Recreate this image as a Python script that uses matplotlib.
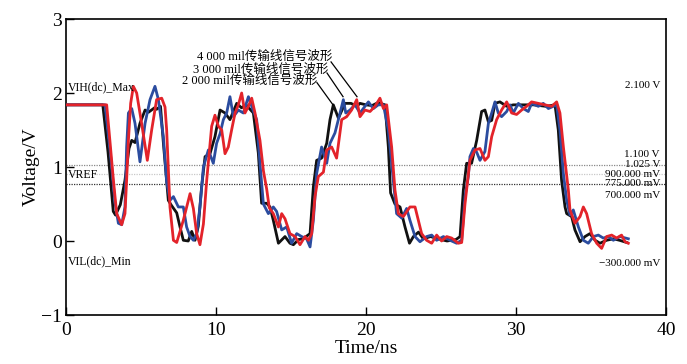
import matplotlib
matplotlib.use("Agg")
import matplotlib.pyplot as plt

# waveform samples (time in ns, voltage in V)
black_t = [0, 2.45, 2.8, 3.15, 3.3, 3.62, 3.93, 4.2, 4.38, 4.6, 4.93, 5.27, 5.5, 5.9, 6.04, 6.3,
           6.5, 6.82, 7.0, 7.38, 7.6, 7.82, 8.15, 8.38, 8.6, 8.82, 9.04, 9.27, 9.6, 9.93, 10.27,
           10.6, 10.93, 11.38, 11.7, 12.0, 12.49, 12.82, 13.04, 13.38, 13.6, 13.82, 14.16, 14.6,
           14.93, 15.16, 15.5, 15.8, 16.27, 16.49, 16.71, 17.04, 17.38, 17.6, 17.82, 18.16, 18.6,
           19.0, 19.38, 19.6, 20.0, 20.4, 20.8, 21.27, 21.49, 21.64, 21.93, 22.27, 22.6, 22.9,
           23.16, 23.5, 23.82, 24.3, 24.8, 25.4, 26.0, 26.27, 26.49, 26.71, 27.04, 27.38, 27.71,
           27.93, 28.16, 28.38, 28.6, 28.93, 29.38, 29.82, 30.27, 31.16, 32.0, 32.6, 32.82, 33.04,
           33.27, 33.38, 33.71, 33.93, 34.27, 34.6, 34.93, 35.27, 35.6, 36.04, 36.5, 36.9, 37.38]
black_v = [1.84, 1.84, 1.2, 0.40, 0.35, 0.49, 0.82, 1.25, 1.36, 1.33, 1.59, 1.77, 1.74, 1.80, 1.78, 1.82,
           1.3, 0.55, 0.49, 0.38, 0.19, 0.01, 0.0, 0.13, 0.01, 0.2, 0.73, 1.14, 1.18, 1.41, 1.77,
           1.73, 1.64, 1.86, 1.80, 1.84, 1.73, 1.19, 0.51, 0.51, 0.46, 0.28, -0.03, 0.06,
           -0.03, -0.05, 0.02, 0.03, 0.1, 0.73, 1.09, 1.12, 1.32, 1.64, 1.84, 1.66, 1.86,
           1.86, 1.82, 1.86, 1.84, 1.83, 1.87, 1.84, 1.27, 0.65, 0.5, 0.46, 0.19, -0.03,
           0.06, 0.12, 0.03, 0.06, 0.03, 0.0, 0.02, 0.06, 0.69, 1.05, 1.05, 1.36, 1.75,
           1.77, 1.61, 1.63, 1.86, 1.88, 1.82, 1.84, 1.84, 1.84, 1.82, 1.84, 1.5, 0.82,
           0.46, 0.37, 0.33, 0.15, -0.01, 0.06, 0.1, 0.01, -0.03, 0.01, 0.03, 0.01, -0.02]

blue_t = [0, 2.6, 2.95, 3.27, 3.49, 3.71, 3.93, 4.04, 4.16, 4.38, 4.6, 4.93, 5.27, 5.6, 5.93, 6.16,
          6.49, 6.71, 6.93, 7.16, 7.49, 7.82, 8.04, 8.27, 8.49, 8.71, 8.93, 9.16, 9.49, 9.82, 10.04,
          10.27, 10.49, 10.71, 10.93, 11.16, 11.49, 11.82, 12.16, 12.38, 12.71, 12.93, 13.16, 13.49,
          13.82, 14.04, 14.38, 14.71, 15.04, 15.38, 15.71, 16.04, 16.27, 16.49, 16.71, 17.04, 17.38,
          17.6, 17.93, 18.27, 18.49, 18.65, 18.93, 19.27, 19.6, 19.93, 20.16, 20.49, 20.82, 21.16,
          21.49, 21.82, 22.04, 22.38, 22.71, 22.93, 23.27, 23.6, 24.04, 24.38, 24.71, 25.16, 25.6,
          26.04, 26.38, 26.6, 26.82, 26.93, 27.16, 27.38, 27.6, 27.93, 28.16, 28.38, 28.6, 28.82,
          29.04, 29.38, 29.6, 29.82, 30.16, 30.49, 30.82, 31.04, 31.49, 31.82, 32.16, 32.71, 32.93,
          33.16, 33.38, 33.6, 33.82, 34.16, 34.49, 34.82, 35.16, 35.49, 35.82, 36.16, 36.49, 36.93,
          37.49]
blue_v = [1.84, 1.84, 1.2, 0.51, 0.24, 0.22, 0.46, 1.27, 1.73, 1.79, 1.59, 1.07, 1.59, 1.91, 2.09, 1.91,
          1.41, 0.8, 0.55, 0.6, 0.46, 0.46, 0.19, 0.06, 0.01, 0.1, 0.46, 1.0, 1.23, 1.05, 1.32,
          1.45, 1.64, 1.73, 1.95, 1.68, 1.77, 1.73, 1.95, 1.82, 1.64, 1.05, 0.5, 0.37,
          0.46, 0.40, 0.15, 0.19, -0.03, 0.1, 0.06, 0.03, -0.08, 0.28, 0.91, 1.27, 1.05,
          1.32, 1.46, 1.73, 1.91, 1.73, 1.77, 1.84, 1.73, 1.82, 1.88, 1.79, 1.84, 1.84,
          1.5, 0.82, 0.37, 0.31, 0.44, 0.28, 0.06, -0.01, 0.06, 0.08, 0.01, 0.06, 0.01,
          -0.03, 0.01, 0.6, 0.87, 1.14, 1.25, 1.2, 1.09, 1.21, 1.59, 1.73, 1.88, 1.73,
          1.68, 1.75, 1.84, 1.73, 1.86, 1.79, 1.75, 1.86, 1.82, 1.86, 1.79, 1.84, 1.5,
          0.91, 0.55, 0.35, 0.42, 0.19, 0.01, -0.03, 0.06, 0.08, 0.04, 0.06, 0.01, 0.06,
          0.03]

red_t = [0, 2.71, 2.95, 3.16, 3.38, 3.71, 3.93, 4.04, 4.16, 4.31, 4.49, 4.71, 5.04, 5.42, 5.71, 6.04,
         6.38, 6.6, 6.71, 6.93, 7.16, 7.38, 7.82, 8.27, 8.49, 8.71, 8.93, 9.16, 9.38, 9.71, 9.93,
         10.16, 10.38, 10.6, 10.82, 11.04, 11.27, 11.49, 11.71, 11.93, 12.16, 12.38, 12.6, 12.93,
         13.16, 13.38, 13.55, 13.82, 14.16, 14.38, 14.6, 14.93, 15.27, 15.6, 15.93, 16.16, 16.38,
         16.6, 16.82, 17.16, 17.38, 17.71, 18.04, 18.38, 18.71, 19.04, 19.38, 19.6, 19.93, 20.27,
         20.6, 20.93, 21.16, 21.38, 21.71, 21.93, 22.16, 22.49, 22.93, 23.27, 23.49, 23.71, 24.04,
         24.38, 24.71, 25.04, 25.38, 25.71, 26.16, 26.38, 26.6, 26.93, 27.27, 27.6, 27.93, 28.16,
         28.38, 28.71, 29.04, 29.38, 29.71, 30.04, 30.38, 30.71, 31.04, 31.49, 31.93, 32.38, 32.71,
         32.93, 33.16, 33.49, 33.6, 33.93, 34.27, 34.49, 34.71, 35.04, 35.38, 35.71, 36.04, 36.38,
         36.71, 37.04, 37.27, 37.49]
red_v = [1.84, 1.84, 1.3, 0.82, 0.37, 0.22, 0.37, 0.82, 1.36, 1.86, 2.09, 2.0, 1.59, 1.09, 1.5, 1.91,
         1.93, 1.81, 1.5, 0.46, 0.01, -0.02, 0.28, 0.64, 0.44, 0.1, -0.05, 0.23, 0.82, 1.55, 1.70,
         1.55, 1.5, 1.18, 1.27, 1.5, 1.73, 1.84, 2.0, 1.73, 1.82, 1.93, 1.73, 1.36,
         0.95, 0.7, 0.45, 0.37, 0.19, 0.37, 0.3, 0.1, 0.06, -0.05, 0.06, 0.01, 0.1,
         0.6, 0.87, 0.93, 1.23, 1.27, 1.12, 1.64, 1.68, 1.77, 1.91, 1.68, 1.77, 1.75,
         1.82, 1.93, 1.79, 1.84, 1.27, 0.69, 0.37, 0.33, 0.46, 0.46, 0.28, 0.1, 0.01,
         -0.03, 0.08, 0.0, 0.06, 0.04, -0.03, -0.02, 0.5, 1.09, 1.23, 1.25, 1.09, 1.14,
         1.41, 1.64, 1.77, 1.88, 1.73, 1.71, 1.77, 1.82, 1.88, 1.86, 1.84, 1.82, 1.88,
         1.73, 1.27, 0.69, 0.42, 0.24, 0.33, 0.46, 0.37, 0.1, -0.03, -0.1, 0.06, 0.08,
         0.04, 0.08, -0.01, -0.03]

series_names = ["2 000 mil传输线信号波形", "3 000 mil传输线信号波形", "4 000 mil传输线信号波形"]

# reference levels (V) drawn as dotted lines
ref_levels = [1.025, 0.9, 0.775]
# marker labels on the right side and the level each one sits at
right_labels = ["2.100 V", "1.100 V", "1.025 V", "900.000 mV", "775.000 mV", "700.000 mV", "\u2212300.000 mV"]
right_label_v = [2.1, 1.17, 1.035, 0.905, 0.775, 0.61, -0.3]
left_labels = ["VIH(dc)_Max", "VREF", "VIL(dc)_Min"]
left_label_v = [2.08, 0.89, -0.28]

serif = ["Liberation Serif", "Noto Sans CJK SC", "DejaVu Sans"]
plt.rcParams["font.family"] = serif
plt.rcParams["axes.unicode_minus"] = True

fig = plt.figure(figsize=(6.87, 3.64), dpi=100)
ax = fig.add_axes([0.0961, 0.1346, 0.8733, 0.8132])

# reference dotted lines
ax.axhline(ref_levels[0], color="#888888", lw=0.9, ls=(0, (1, 1)), zorder=1)
ax.axhline(ref_levels[1], color="#c8c8c8", lw=0.9, ls=(0, (1, 1)), zorder=1)
ax.axhline(ref_levels[2], color="#333333", lw=0.9, ls=(0, (1, 1)), zorder=1)

ax.plot(black_t, black_v, color="#111111", lw=2.0, zorder=3)
ax.plot(blue_t, blue_v, color="#2b4c9f", lw=2.0, zorder=4)
ax.plot(red_t, red_v, color="#e3232a", lw=2.0, zorder=5)

for txt, v in zip(right_labels, right_label_v):
    ax.text(39.6, v, txt, ha="right", va="center", fontsize=8, zorder=6)
for txt, v in zip(left_labels, left_label_v):
    ax.text(0.15, v, txt, ha="left", va="center", fontsize=8.5, zorder=6)

# annotation texts with leader lines
ann_text_xy = [(16.73, 2.16), (17.47, 2.31), (17.73, 2.49)]
ann_line = [((16.73, 2.14), (17.8, 1.84)), ((17.4, 2.27), (18.47, 1.95)), ((17.67, 2.42), (19.4, 1.95))]
for name, (tx, ty), (p0, p1) in zip(series_names, ann_text_xy, ann_line):
    ax.text(tx, ty, name, ha="right", va="center", fontsize=9, zorder=6)
    ax.plot([p0[0], p1[0]], [p0[1], p1[1]], color="black", lw=0.9, zorder=6)

ax.set_xlim(0, 40)
ax.set_ylim(-1, 3)
ax.set_xticks([0, 10, 20, 30, 40])
ax.set_yticks([-1, 0, 1, 2, 3])
ax.set_yticklabels(["\u22121", "0", "1", "2", "3"])
ax.tick_params(direction="in", length=6, width=1.0, labelsize=14, top=False, right=False)
ax.tick_params(axis="x", pad=5)
ax.tick_params(axis="y", pad=3)
for s in ax.spines.values():
    s.set_linewidth(1.2)
ax.set_xlabel("Time/ns", fontsize=14, labelpad=1)
ax.set_ylabel("Voltage/V", fontsize=14, labelpad=1)

fig.savefig("out.png", dpi=100)
